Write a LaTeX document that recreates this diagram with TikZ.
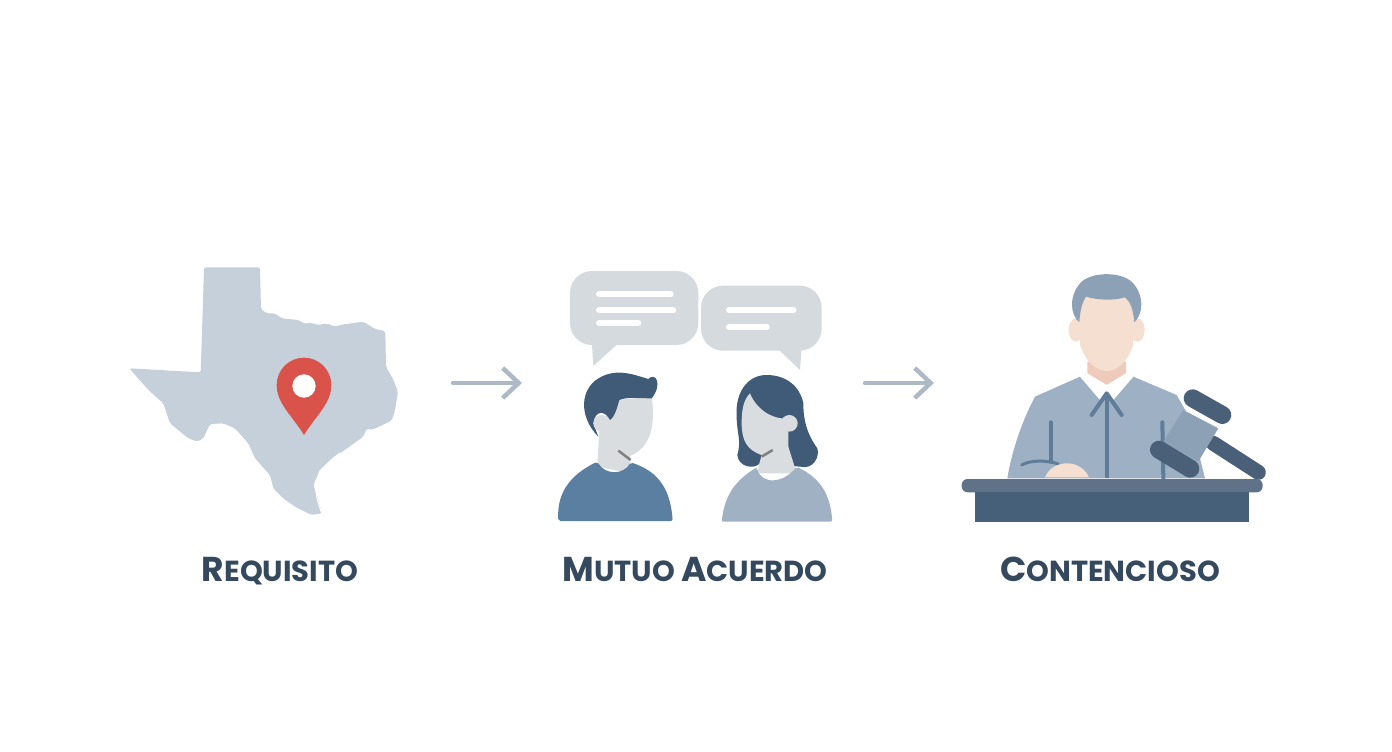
\documentclass[tikz,border=0pt]{standalone}
\usepackage{fontspec}
\setmainfont{Poppins}
\usetikzlibrary{arrows.meta}
\definecolor{texasgray}{HTML}{C6D0DA}
\definecolor{pinred}{HTML}{D9534A}
\definecolor{bubblegray}{HTML}{D5DADF}
\definecolor{skingray}{HTML}{DADDE0}
\definecolor{hairblue}{HTML}{3F5B77}
\definecolor{shirtblue}{HTML}{5A7FA0}
\definecolor{shirtgray}{HTML}{A0B1C3}
\definecolor{robeblue}{HTML}{9DB0C4}
\definecolor{hairgray}{HTML}{8DA1B6}
\definecolor{seamblue}{HTML}{5F7C98}
\definecolor{skinpeach}{HTML}{F5DFD0}
\definecolor{neckpeach}{HTML}{EECABB}
\definecolor{gaveldark}{HTML}{4A6078}
\definecolor{deskdark}{HTML}{46607A}
\definecolor{desktop}{HTML}{5F7288}
\definecolor{arrowgray}{HTML}{AEB9C6}
\definecolor{labelblue}{HTML}{34495E}
\tikzstyle{iconlabel} = [text=labelblue, anchor=base, font=\bfseries\fontsize{29}{34}\selectfont]
\tikzstyle{flow} = [arrowgray, line width=4.5, line cap=round,
    -{Straight Barb[length=16,width=30,line width=4.5]}]
\tikzstyle{textline} = [white, line width=6, line cap=round]
\newcommand{\capletter}[1]{{\fontsize{34.5}{34}\selectfont #1}}

\begin{document}
\begin{tikzpicture}[x=1pt,y=-1pt]
  \useasboundingbox (0,0) rectangle (1392,752);

  % texas
  \begin{scope}[shift={(110,250)},scale=1/3]
    \fill[texasgray,rounded corners=2] (282,52) -- (450,52) -- (453,178) -- (470,190) -- (495,190)
      -- (515,205) -- (565,210) -- (585,222) -- (600,218) -- (625,225) -- (650,220) -- (675,230)
      -- (695,224) -- (760,215) -- (795,237) -- (826,243) -- (828,350) -- (848,385) -- (864,425)
      -- (855,480) -- (845,512) -- (785,540) -- (770,535) -- (760,560) -- (690,610) -- (665,625)
      -- (630,660) -- (610,705) -- (625,750) -- (635,790) -- (605,795) -- (555,770) -- (520,745)
      -- (490,715) -- (480,675) -- (435,625) -- (415,580) -- (375,535) -- (340,520) -- (300,522)
      -- (280,565) -- (262,575) -- (235,565) -- (180,520) -- (160,460) -- (115,420) -- (58,355)
      -- (272,367) -- (276,250) -- cycle;
    \draw[white,line width=1] (690,608) -- (670,625) -- (630,662) -- (615,705) -- (622,750) -- (633,785);
    \fill[pinred] (582,555) .. controls (545,495) and (500,460) .. (500,405)
      arc[start angle=180,end angle=360,radius=82]
      .. controls (664,460) and (619,495) .. (582,555) -- cycle;
    \fill[white] (582,408) circle (35);
  \end{scope}

  % talk
  \begin{scope}[shift={(540,260)},scale=1/3]
    \fill[bubblegray,rounded corners=22] (90,33) rectangle (475,255);
    \fill[bubblegray] (235,250) -- (160,318) -- (155,240) -- cycle;
    \fill[bubblegray,rounded corners=22] (483,77) rectangle (845,272);
    \fill[bubblegray] (712,265) -- (780,330) -- (785,265) -- cycle;
    \draw[textline] (177,103) -- (392,103);
    \draw[textline] (177,151) -- (400,151);
    \draw[textline] (177,189) -- (295,189);
    \draw[textline] (567,150) -- (761,150);
    \draw[textline] (567,201) -- (680,201);
    % man
    \fill[skingray] (178,500) -- (230,420) -- (335,410) .. controls (345,480) and (340,560) .. (270,588)
      -- (272,640) -- (172,620) -- cycle;
    \draw[gray,line width=2.5] (235,572) -- (272,600);
    \fill[hairblue] (175,530) .. controls (125,480) and (115,405) .. (165,362)
      .. controls (220,322) and (270,340) .. (325,357) .. controls (345,335) and (370,370) .. (335,415)
      .. controls (300,415) and (260,410) .. (238,420) .. controls (232,440) and (225,470) .. (210,480)
      .. controls (195,450) and (165,450) .. (160,490) -- cycle;
    \fill[skingray] (185,490) circle (25);
    \fill[shirtblue,rounded corners=2] (55,783) .. controls (50,690) and (100,640) .. (172,605)
      .. controls (195,645) and (250,645) .. (272,607) .. controls (340,630) and (390,670) .. (398,783) -- cycle;
    % woman
    \fill[hairblue] (680,345) .. controls (620,345) and (585,400) .. (590,470)
      .. controls (590,520) and (605,540) .. (592,585) .. controls (595,620) and (640,630) .. (660,610)
      -- (780,620) .. controls (820,630) and (840,590) .. (832,565)
      .. controls (800,520) and (790,480) .. (790,430) .. controls (780,380) and (740,345) .. (680,345) -- cycle;
    \fill[skingray] (748,490) circle (25);
    \fill[skingray] (630,400) .. controls (650,450) and (700,480) .. (745,475) -- (745,560) -- (770,640)
      -- (650,640) -- (665,585) .. controls (620,570) and (605,540) .. (605,490)
      .. controls (605,450) and (610,420) .. (630,400) -- cycle;
    \draw[gray,line width=2.5] (665,590) -- (698,570);
    \fill[shirtgray,rounded corners=2] (545,785) .. controls (555,700) and (590,660) .. (650,622)
      .. controls (665,675) and (730,670) .. (770,620) .. controls (830,650) and (870,690) .. (877,785) -- cycle;
  \end{scope}

  % judge
  \begin{scope}[shift={(950,265)},scale=1/3]
    \fill[skinpeach] (378,195) ellipse (22 and 35);
    \fill[skinpeach] (562,195) ellipse (22 and 35);
    \fill[neckpeach] (412,290) -- (412,335) -- (470,362) -- (528,335) -- (528,290) -- cycle;
    \fill[skinpeach] (390,90) -- (550,90) -- (550,240) .. controls (530,295) and (500,318) .. (470,318)
      .. controls (440,318) and (410,295) .. (390,240) -- cycle;
    \fill[hairgray] (388,172) .. controls (360,150) and (355,90) .. (395,50)
      .. controls (430,20) and (510,20) .. (545,50) .. controls (585,90) and (580,150) .. (552,172)
      .. controls (550,130) and (540,110) .. (525,97) .. controls (490,108) and (440,105) .. (408,95)
      .. controls (395,115) and (390,140) .. (388,172) -- cycle;
    \fill[robeblue] (172,640) .. controls (185,560) and (215,470) .. (255,395) -- (390,335) -- (470,380)
      -- (550,335) -- (680,390) -- (720,460) -- (765,640) -- cycle;
    \fill[white] (390,335) -- (412,325) -- (470,360) -- (528,325) -- (550,335) -- (490,405) -- (470,380) -- (450,405) -- cycle;
    \draw[seamblue,line width=4,line cap=round,line join=round] (425,450) -- (470,385) -- (515,450);
    \draw[seamblue,line width=4] (470,385) -- (470,640);
    \draw[seamblue,line width=4,line cap=round] (302,472) -- (302,590);
    \draw[seamblue,line width=4,line cap=round] (637,472) -- (640,640);
    \draw[seamblue,line width=3,line cap=round] (215,600) .. controls (240,585) and (290,585) .. (325,597);
    \fill[skinpeach] (285,637) .. controls (300,600) and (340,590) .. (370,597) .. controls (395,605) and (410,620) .. (417,637) -- cycle;
    % gavel
    \draw[gaveldark,line width=15,line cap=round] (790,535) -- (925,622);
    \fill[hairgray] (700,435) -- (805,490) -- (745,590) -- (640,530) -- cycle;
    \draw[gaveldark,line width=18,line cap=round] (728,400) -- (817,450);
    \draw[gaveldark,line width=18,line cap=round] (627,554) -- (721,611);
    % desk
    \fill[desktop,rounded corners=6] (35,642) rectangle (938,682);
    \fill[deskdark] (75,682) rectangle (897,770);
  \end{scope}

  % flow
  \coordinate (texasend) at (453,383);
  \coordinate (talkstart) at (522,383);
  \coordinate (talkend) at (865,383);
  \coordinate (judgestart) at (934,383);
  \draw[flow] (texasend) -- (talkstart);
  \draw[flow] (talkend) -- (judgestart);

  % labels
  \node[iconlabel] (requisito) at (280,581) {\capletter{R}EQUISITO};
  \node[iconlabel] (acuerdo) at (695,581) {\capletter{M}UTUO \capletter{A}CUERDO};
  \node[iconlabel] (contencioso) at (1110,581) {\capletter{C}ONTENCIOSO};
\end{tikzpicture}
\end{document}
